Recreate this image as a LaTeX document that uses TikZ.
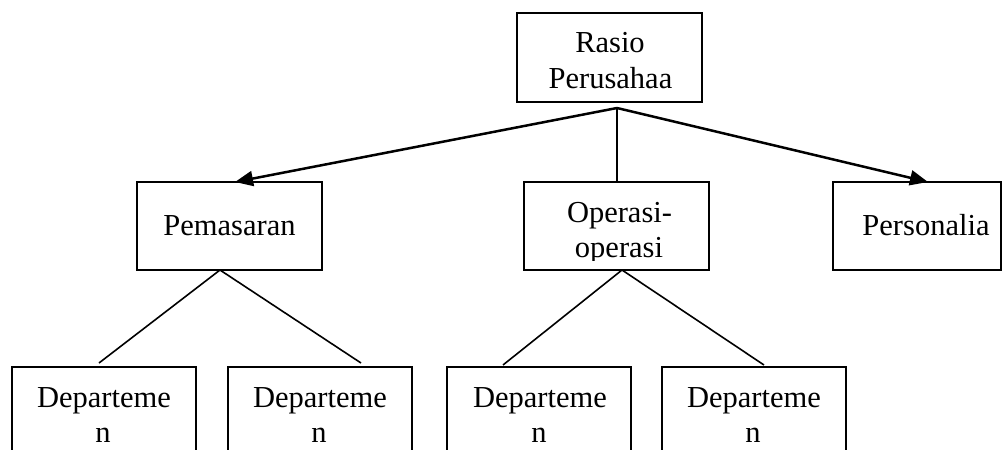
\documentclass[tikz,border=0pt]{standalone}
\usepackage{fontspec}
\setmainfont{Liberation Serif}
\usetikzlibrary{arrows.meta}
\begin{document}
\begin{tikzpicture}[x=1pt,y=-1pt,
  box/.style={draw=black, line width=2pt, inner sep=0pt, minimum width=185pt, minimum height=88pt},
  txt/.style={anchor=base, inner sep=0pt, font=\fontsize{30.5}{35.5}\selectfont},
  arrowline/.style={line width=2.5pt, -{Triangle[length=18pt,width=15pt]}},
  stem/.style={line width=2pt},
  branch/.style={line width=1.6pt}]
\useasboundingbox (0,0) rectangle (1005,450);
\clip (0,0) rectangle (1005,450);
% boxes
\node[box, minimum height=89pt] (rasio) at (609.5,57.5) {};
\node[box] (pem) at (229.5,226) {};
\node[box] (ops) at (616.5,226) {};
\node[box, minimum width=168pt] (pers) at (917,225.5) {};
\node[box, minimum width=184pt, minimum height=110pt] (d1) at (104,422) {};
\node[box, minimum width=184pt, minimum height=110pt] (d2) at (320,422) {};
\node[box, minimum width=184pt, minimum height=110pt] (d3) at (539,422) {};
\node[box, minimum width=184pt, minimum height=110pt] (d4) at (754,422) {};
% texts
\node[txt] (t1a) at (610,52) {Rasio};
\node[txt] (t1b) at (610.5,88) {Perusahaa};
\node[txt] (t2) at (229.5,235) {Pemasaran};
\begin{scope}
\clip (524,183) rectangle (709,260);
\node[txt] (t3a) at (619.5,222) {Operasi-};
\node[txt] (t3b) at (619,257) {operasi};
\end{scope}
\node[txt] (t4) at (926,235) {Personalia};
\foreach \n/\x in {d1/104,d2/320,d3/540,d4/754}{
  \node[txt] at (\x,407) {Departeme};
  \node[txt] at (\x-1,442) {n};
}
% connector points
\coordinate (top) at (617,108);
\coordinate (pemTip) at (235,182);
\coordinate (persTip) at (928,182);
\coordinate (pemApex) at (220,270);
\coordinate (opsApex) at (622,270);
\coordinate (d1top) at (99,363);
\coordinate (d2top) at (361,363);
\coordinate (d3top) at (503,365);
\coordinate (d4top) at (764,365);
% connectors
\draw[arrowline] (top) -- (pemTip);
\draw[arrowline] (top) -- (persTip);
\draw[stem] (top) -- (top |- ops.north);
\draw[branch] (pemApex) -- (d1top);
\draw[branch] (pemApex) -- (d2top);
\draw[branch] (opsApex) -- (d3top);
\draw[branch] (opsApex) -- (d4top);
\end{tikzpicture}
\end{document}
